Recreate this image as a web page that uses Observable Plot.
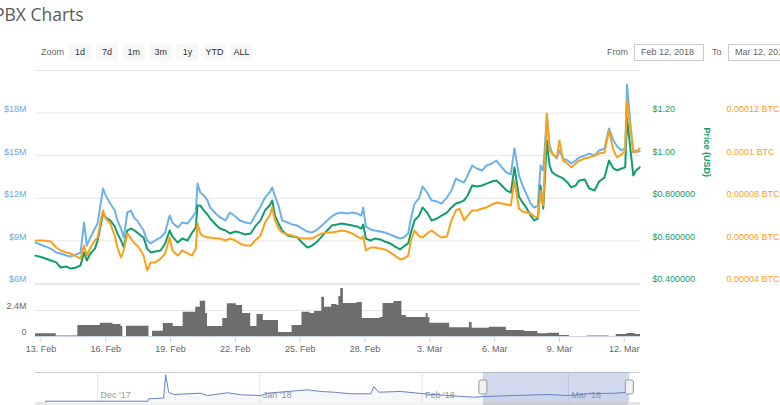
<!DOCTYPE html>
<html><head><meta charset="utf-8">
<script src="https://cdn.jsdelivr.net/npm/d3@7"></script>
<script src="https://cdn.jsdelivr.net/npm/@observablehq/plot@0.6"></script>
<style>
html,body{margin:0;padding:0;background:#fff;}
#root{position:relative;width:780px;height:405px;overflow:hidden;}
#root svg{position:absolute;left:0;top:0;}
</style></head>
<body><div id="root"></div>
<script>
// ---------- DATA ----------
const times = [
"02-12 18","02-13 02","02-13 11","02-13 17","02-13 22","02-14 04","02-14 09","02-14 15","02-14 20","02-15 00",
"02-15 03","02-15 07","02-15 12","02-15 15","02-15 19","02-15 21","02-16 00","02-16 05","02-16 10","02-16 13",
"02-16 17","02-16 20","02-17 00","02-17 04","02-17 08","02-17 11","02-17 15","02-17 18","02-17 22","02-18 02",
"02-18 07","02-18 13","02-18 18","02-18 23","02-19 02","02-19 08","02-19 13","02-19 19","02-20 00","02-20 04",
"02-20 06","02-20 09","02-20 13","02-20 17","02-20 20","02-21 02","02-21 07","02-21 13","02-21 18","02-22 00",
"02-22 05","02-22 11","02-22 17","02-22 22","02-23 04","02-23 09","02-23 14","02-23 17","02-23 20","02-24 00",
"02-24 04","02-24 10","02-24 15","02-24 21","02-25 02","02-25 08","02-25 13","02-25 19","02-26 00","02-26 06",
"02-26 11","02-26 17","02-26 22","02-27 04","02-27 10","02-27 15","02-27 20","02-27 22","02-28 01","02-28 06",
"02-28 11","02-28 17","02-28 22","03-01 04","03-01 09","03-01 15","03-01 19","03-02 00","03-02 03","03-02 07",
"03-02 12","03-02 16","03-02 21","03-03 02","03-03 08","03-03 13","03-03 19","03-04 00","03-04 05","03-04 09",
"03-04 14","03-04 18","03-04 23","03-05 04","03-05 10","03-05 15","03-05 21","03-06 02","03-06 08","03-06 13",
"03-06 18","03-06 22","03-07 03","03-07 07","03-07 11","03-07 16","03-07 20","03-08 00","03-08 03","03-08 06",
"03-08 10","03-08 13","03-08 16","03-08 21","03-09 00","03-09 04","03-09 09","03-09 13","03-09 18","03-09 22",
"03-10 04","03-10 09","03-10 15","03-10 20","03-11 02","03-11 07","03-11 12","03-11 16","03-11 21","03-12 01",
"03-12 03","03-12 07","03-12 10","03-12 13","03-12 17"];

// Market cap, millions of USD
const marketCapM = [
8.89,8.68,8.46,8.18,8.11,7.97,7.90,8.04,8.18,10.30,
8.68,9.24,9.87,10.23,11.85,12.69,12.20,11.63,11.14,10.44,
9.87,9.24,11.00,11.14,10.58,10.44,10.01,9.73,9.03,8.82,
9.03,9.24,9.59,10.79,10.30,9.94,10.30,10.23,10.65,11.00,
13.04,12.41,12.20,11.85,11.35,10.93,10.65,10.44,11.00,10.72,
10.44,10.30,10.23,10.79,11.42,12.06,12.41,12.76,12.13,11.49,
10.44,10.30,10.15,10.08,9.87,9.66,9.59,9.80,10.08,10.44,
10.72,10.93,11.00,10.93,11.00,10.93,10.79,11.35,10.01,9.80,
9.73,9.66,9.59,9.45,9.31,9.17,9.24,9.52,10.58,11.63,
11.99,12.83,12.41,11.85,11.77,11.63,12.06,12.55,13.39,13.25,
13.11,13.61,14.31,14.10,13.96,14.31,14.45,14.66,14.17,13.82,
13.68,15.51,13.61,12.90,12.34,11.63,11.35,11.49,14.31,13.96,
17.83,15.72,15.15,14.80,15.37,14.80,14.66,14.45,14.66,14.87,
15.01,15.15,15.01,15.37,15.51,16.92,16.07,15.65,15.37,15.51,
20.01,17.13,15.23,15.37,15.30];

// Price, USD
const priceUSD = [
0.531,0.522,0.508,0.499,0.475,0.480,0.470,0.475,0.485,0.546,
0.508,0.541,0.564,0.602,0.686,0.729,0.710,0.696,0.668,0.635,
0.602,0.569,0.649,0.658,0.649,0.639,0.625,0.616,0.564,0.546,
0.550,0.555,0.588,0.649,0.621,0.592,0.611,0.602,0.639,0.663,
0.766,0.766,0.743,0.724,0.705,0.677,0.658,0.649,0.635,0.644,
0.639,0.630,0.635,0.668,0.696,0.743,0.766,0.790,0.719,0.682,
0.649,0.625,0.621,0.616,0.592,0.569,0.578,0.597,0.621,0.649,
0.672,0.677,0.682,0.677,0.672,0.668,0.658,0.677,0.611,0.602,
0.611,0.607,0.597,0.588,0.574,0.560,0.574,0.588,0.639,0.696,
0.719,0.757,0.733,0.696,0.705,0.719,0.733,0.757,0.776,0.780,
0.790,0.813,0.860,0.855,0.860,0.869,0.879,0.884,0.860,0.837,
0.827,0.945,0.808,0.780,0.757,0.719,0.696,0.705,0.860,0.752,
1.071,0.954,0.921,0.907,0.902,0.893,0.874,0.851,0.860,0.884,
0.888,0.846,0.837,0.879,0.898,0.977,0.940,0.931,0.940,0.945,
1.175,1.024,0.907,0.931,0.945];

// Price, BTC
const priceBTC = [
6.02e-5,6.02e-5,5.97e-5,5.69e-5,5.55e-5,5.46e-5,5.41e-5,5.27e-5,5.17e-5,5.78e-5,
5.31e-5,5.69e-5,6.02e-5,6.16e-5,7.05e-5,7.43e-5,7.05e-5,6.82e-5,6.25e-5,5.69e-5,
5.22e-5,5.55e-5,6.35e-5,6.11e-5,5.88e-5,5.78e-5,5.55e-5,5.31e-5,4.61e-5,4.99e-5,
4.99e-5,5.17e-5,5.41e-5,6.16e-5,5.55e-5,5.31e-5,5.55e-5,5.41e-5,5.31e-5,5.64e-5,
6.82e-5,6.35e-5,6.21e-5,6.16e-5,6.16e-5,6.11e-5,6.11e-5,6.02e-5,6.11e-5,6.02e-5,
5.88e-5,5.78e-5,5.78e-5,6.02e-5,6.25e-5,6.86e-5,7.19e-5,7.57e-5,6.96e-5,6.58e-5,
6.39e-5,6.30e-5,6.25e-5,6.16e-5,6.11e-5,6.11e-5,6.11e-5,6.25e-5,6.35e-5,6.39e-5,
6.39e-5,6.44e-5,6.49e-5,6.44e-5,6.35e-5,6.21e-5,6.11e-5,6.21e-5,5.55e-5,5.69e-5,
5.69e-5,5.64e-5,5.60e-5,5.46e-5,5.31e-5,5.13e-5,5.17e-5,5.31e-5,6.02e-5,6.49e-5,
6.21e-5,6.16e-5,6.35e-5,6.49e-5,6.30e-5,6.16e-5,6.21e-5,6.96e-5,7.43e-5,7.52e-5,
6.96e-5,7.19e-5,7.43e-5,7.43e-5,7.52e-5,7.57e-5,7.71e-5,7.80e-5,7.76e-5,7.71e-5,
7.66e-5,8.84e-5,7.52e-5,7.38e-5,7.33e-5,7.29e-5,7.15e-5,7.10e-5,8.37e-5,7.66e-5,
11.98e-5,10.24e-5,10.10e-5,9.92e-5,10.71e-5,9.77e-5,9.63e-5,9.45e-5,9.63e-5,9.77e-5,
9.87e-5,9.92e-5,10.01e-5,10.10e-5,10.15e-5,11.18e-5,10.24e-5,9.92e-5,10.06e-5,10.24e-5,
12.59e-5,11.18e-5,10.24e-5,10.15e-5,10.34e-5];

// 24h volume, millions of USD
const volTimes = [
"02-12 18","02-13 17","02-14 17","02-15 18","02-16 08","02-16 17","02-16 19","02-16 23","02-18 00","02-18 04",
"02-18 16","02-19 03","02-19 14","02-20 04","02-20 09","02-20 15","02-20 17","02-21 10","02-21 15","02-22 01",
"02-22 08","02-22 17","02-23 00","02-23 07","02-24 00","02-24 15","02-25 02","02-25 11","02-25 16","02-26 00",
"02-26 03","02-26 11","02-26 17","02-26 19","02-26 21","02-27 00","02-27 15","02-27 21","02-28 17","02-28 20",
"03-01 08","03-01 17","03-01 22","03-02 20","03-02 22","03-03 00","03-03 22","03-04 20","03-04 23","03-05 18",
"03-06 13","03-07 09","03-08 00","03-08 11","03-09 00","03-09 11","03-10 07","03-11 07","03-11 15","03-12 03",
"03-12 12","03-12 18"];
const volumeM = [
0.25,0.05,1.02,1.23,1.11,0.92,0,0.95,0,0.49,
1.20,0.92,2.24,2.70,3.26,2.12,0.92,1.66,3.02,2.86,
2.12,0.92,2.03,1.48,0.37,1.02,2.24,2.12,2.31,3.63,
2.70,2.95,2.86,3.69,4.43,3.05,3.14,1.66,1.75,3.05,
3.23,1.94,1.75,2.12,1.75,1.23,0.80,1.29,0.77,0.86,
0.55,0.46,0.25,0.30,0.09,0,0.05,0,0.18,0.28,
0.18,0.18];

// Navigator (full history), market cap in millions
const navTimes = ["2017-11-21T00","2017-12-10T14","2017-12-10T18","2017-12-13T15","2017-12-14T00","2017-12-14T14",
"2017-12-15T13","2017-12-20T17","2017-12-22T00","2017-12-25T21","2017-12-28T09","2018-01-01T05","2018-01-02T12",
"2018-01-06T09","2018-01-10T04","2018-01-12T16","2018-01-15T04","2018-01-18T10","2018-01-22T06","2018-01-22T19",
"2018-01-23T18","2018-01-27T23","2018-02-01T09","2018-02-05T23","2018-02-10T23","2018-02-12T21","2018-02-18T14",
"2018-02-25T02","2018-02-28T22","2018-03-04T18","2018-03-09T18","2018-03-12T14"];
const navCapM = [1.8,1.8,5.1,6.1,38.5,14.3,11.1,12.9,9.7,13.5,10.7,9.7,12.9,15.3,17.6,15.3,14.3,12.1,12.1,22.2,
14.3,15.3,12.1,9.7,7.4,8.3,9.7,11.1,9.7,12.1,12.9,14.3];

// Ticks and labels
const capTicks = [6, 9, 12, 15, 18];
const capGrid = [6, 9, 12, 15, 18, 21];
const usdTicks = [0.4, 0.6, 0.8, 1.0, 1.2];
const usdTickLabels = ["$0.400000", "$0.600000", "$0.800000", "$1.00", "$1.20"];
const btcTicks = [0.00004, 0.00006, 0.00008, 0.0001, 0.00012];
const btcTickLabels = ["0.00004 BTC", "0.00006 BTC", "0.00008 BTC", "0.0001 BTC", "0.00012 BTC"];
const volTicks = [0, 2.4];
const volTickLabels = ["0", "2.4M"];
const volGrid = [0, 2.4, 4.8];
const xTickDays = ["02-13 00","02-16 00","02-19 00","02-22 00","02-25 00","02-28 00","03-03 00","03-06 00","03-09 00","03-12 00"];
const navMonths = ["2017-12-01T00","2018-01-01T00","2018-02-01T00","2018-03-01T00"];
const navMonthLabels = ["Dec '17", "Jan '18", "Feb '18", "Mar '18"];
const zoomButtons = ["1d","7d","1m","3m","1y","YTD","ALL"];
const chartTitle = "PBX Charts";
const fromDate = "Feb 12, 2018", toDate = "Mar 12, 2018";
const rangeStart = "02-12 18", rangeEnd = "03-12 18";
const navStart = "2017-11-19T03", navEnd = "2018-03-14T19";

// ---------- BUILD ----------
const BLUE = "#6cb2e8", GREEN = "#0f9d6f", ORANGE = "#f9a11b";
const FONT = "'Liberation Sans', Arial, sans-serif";
const pT = s => new Date(`2018-${s.slice(0,5)}T${s.slice(6)}:00Z`);
const pN = s => new Date(`${s}:00:00Z`);
const root = document.getElementById("root");

const main = times.map((s, i) => ({t: pT(s), cap: marketCapM[i], usd: priceUSD[i], btc: priceBTC[i]}));
const vol = volTimes.map((s, i) => ({t: pT(s), v: volumeM[i]}));
const nav = navTimes.map((s, i) => ({t: pN(s), v: navCapM[i]}));
const x0 = pT(rangeStart), x1 = pT(rangeEnd);

// chrome (title, buttons, inputs, scrollbar)
let btns = "";
zoomButtons.forEach((b, i) => {
  const bx = 69 + i * 26.9;
  btns += `<rect x="${bx}" y="44" width="22" height="16" rx="2" fill="#f7f7f7"/>` +
          `<text x="${bx + 11}" y="55.3" text-anchor="middle" fill="#333">${b}</text>`;
});
root.insertAdjacentHTML("beforeend", `
<svg width="780" height="405" font-family="${FONT}" font-size="9">
  <text x="-6" y="21" font-family="'Open Sans', sans-serif" font-size="17.5" fill="#5a5a5a">${chartTitle}</text>
  <text x="41" y="55.3" fill="#666">Zoom</text>
  ${btns}
  <text x="607" y="55.3" fill="#666">From</text>
  <rect x="634.5" y="44.5" width="69" height="16" fill="#fff" stroke="#ccc"/>
  <text x="641" y="55.3" fill="#666">${fromDate}</text>
  <text x="712" y="55.3" fill="#666">To</text>
  <rect x="728.5" y="44.5" width="70" height="16" fill="#fff" stroke="#ccc"/>
  <text x="735" y="55.3" fill="#666">${toDate}</text>
  <line x1="35" x2="640" y1="372.5" y2="372.5" stroke="#ccc"/>
  <rect x="35" y="402" width="605" height="6" fill="#f2f2f2"/>
  <rect x="483" y="402" width="147" height="6" fill="#ccc"/>
  <rect x="35" y="402" width="12" height="6" fill="#e6e6e6"/>
  <rect x="628" y="402" width="12" height="6" fill="#e6e6e6"/>
</svg>`);

const style = {background: "transparent", fontFamily: FONT, fontSize: "9px", overflow: "visible"};
const place = svg => { root.append(svg); };
const mainFrame = {width: 780, height: 405, marginLeft: 35, marginRight: 140, marginTop: 70, marginBottom: 122, style};
const xMain = {type: "utc", domain: [x0, x1], axis: null};

// market cap (left axis, grid)
place(Plot.plot({...mainFrame, x: xMain, y: {domain: [6, 21], axis: null},
  marks: [
    Plot.gridY(capGrid, {stroke: "#e6e6e6", strokeOpacity: 1}),
    Plot.axisY(capTicks, {anchor: "left", tickSize: 0, tickPadding: 9, dy: -4, fill: "#6aa9dc", label: null,
      tickFormat: d => `$${d}M`}),
    Plot.lineY(main, {x: "t", y: "cap", stroke: BLUE, strokeWidth: 2})
  ]}));

// price USD
place(Plot.plot({...mainFrame, x: xMain, y: {domain: [0.4, 1.4], axis: null},
  marks: [
    Plot.axisY(usdTicks, {anchor: "right", tickSize: 0, tickPadding: 12, dy: -4, fill: GREEN, label: null,
      tickFormat: d => usdTickLabels[usdTicks.indexOf(d)]}),
    Plot.text(["Price (USD)"], {text: d => d, frameAnchor: "right", dx: 66, rotate: 90, fill: GREEN,
      fontWeight: "bold", fontSize: 9}),
    Plot.lineY(main, {x: "t", y: "usd", stroke: GREEN, strokeWidth: 2})
  ]}));

// price BTC
place(Plot.plot({...mainFrame, x: xMain, y: {domain: [0.00004, 0.00014], axis: null},
  marks: [
    Plot.axisY(btcTicks, {anchor: "right", tickSize: 0, tickPadding: 86, dy: -4, fill: ORANGE, label: null,
      tickFormat: d => btcTickLabels[btcTicks.indexOf(d)]}),
    Plot.lineY(main, {x: "t", y: "btc", stroke: ORANGE, strokeWidth: 2})
  ]}));

// volume + x axis
place(Plot.plot({width: 780, height: 405, marginLeft: 35, marginRight: 140, marginTop: 284, marginBottom: 69, style,
  x: xMain, y: {domain: [0, 4.8], axis: null},
  marks: [
    Plot.gridY(volGrid, {stroke: "#e6e6e6", strokeOpacity: 1}),
    Plot.axisY(volTicks, {anchor: "left", tickSize: 0, tickPadding: 9, dy: -4, fill: "#666", label: null,
      tickFormat: d => volTickLabels[volTicks.indexOf(d)]}),
    Plot.areaY(vol, {x: "t", y: "v", curve: "step-after", fill: "#6d6d6d"}),
    Plot.ruleY([0], {stroke: "#ccd6eb"}),
    Plot.axisX(xTickDays.map(pT), {anchor: "bottom", tickSize: 6, tickPadding: 3, stroke: "#ccd6eb", fill: "#666",
      label: null, tickFormat: d3.utcFormat("%-d. %b")})
  ]}));

// navigator
const navMonthDates = navMonths.map(pN);
place(Plot.plot({width: 780, height: 405, marginLeft: 35, marginRight: 140, marginTop: 372, marginBottom: 3, style,
  x: {type: "utc", domain: [pN(navStart), pN(navEnd)], axis: null},
  y: {domain: [0, 40], range: [402, 373.2], axis: null},
  marks: [
    Plot.gridX(navMonthDates, {stroke: "#e6e6e6", strokeOpacity: 1}),
    Plot.axisX(navMonthDates, {anchor: "bottom", tickSize: 0, tickPadding: 0, dx: 3, dy: -11, textAnchor: "start",
      fill: "#999", label: null, tickFormat: d => navMonthLabels[navMonthDates.findIndex(m => +m === +d)]}),
    Plot.areaY(nav, {x: "t", y: "v", fill: "#335cad", fillOpacity: 0.05}),
    Plot.lineY(nav, {x: "t", y: "v", stroke: "#6685c2", strokeWidth: 1}),
    Plot.rect([{a: x0, b: x1}], {x1: "a", x2: "b", fill: "rgb(102,133,194)", fillOpacity: 0.3}),
    Plot.rect([x0, x1], {x1: d => d, x2: d => d, insetLeft: -4, insetRight: -4, insetTop: 8, insetBottom: 8,
      fill: "#f2f2f2", stroke: "#999", rx: 2})
  ]}));
</script>
</body></html>
